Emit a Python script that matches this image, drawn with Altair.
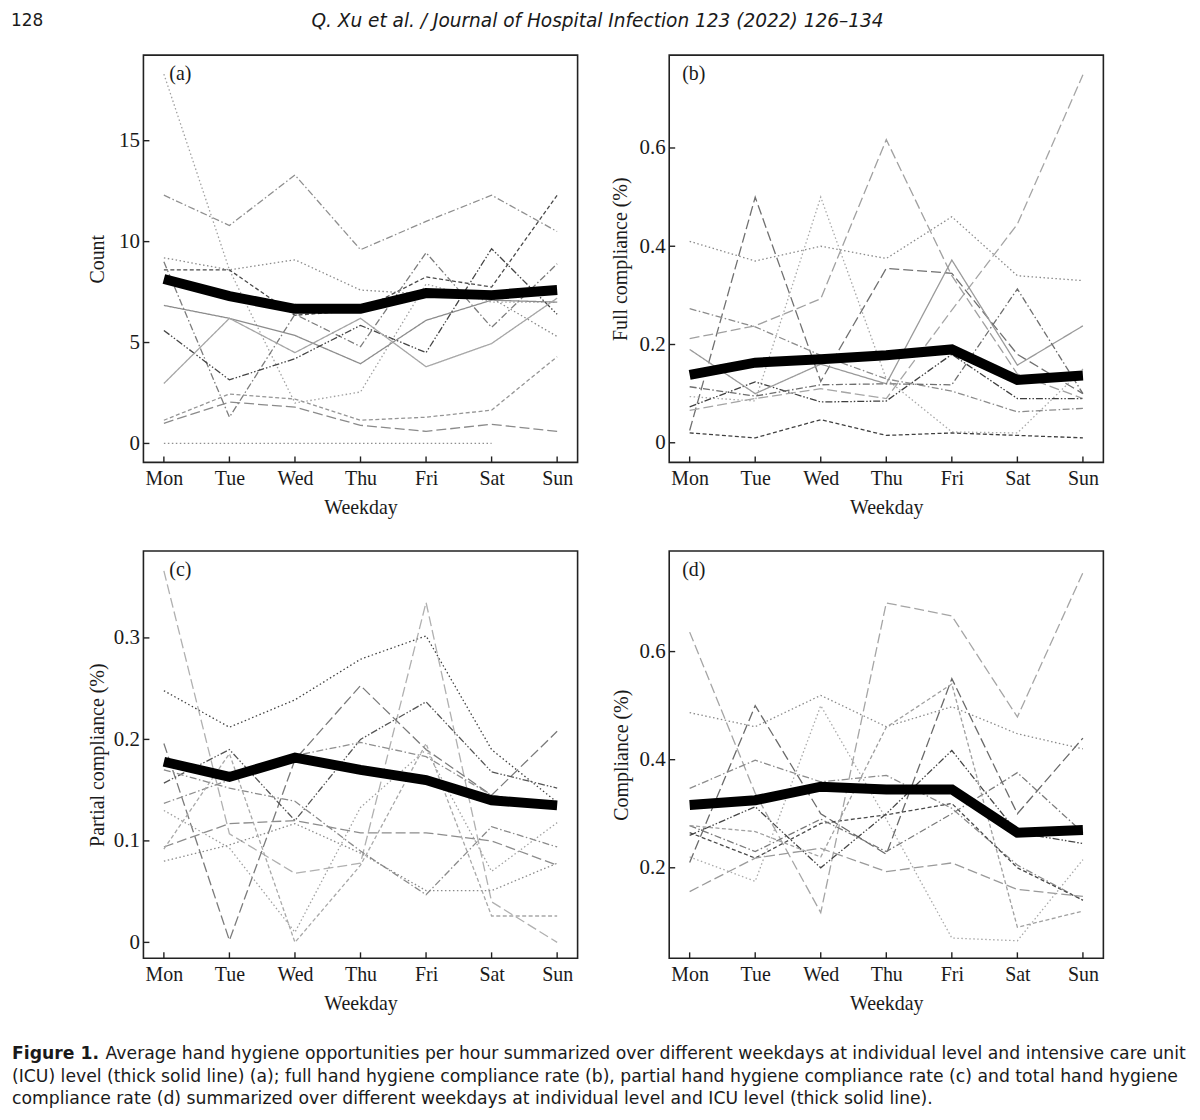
import json
import altair as alt
import pandas as pd

DAYS = ["Mon", "Tue", "Wed", "Thu", "Fri", "Sat", "Sun"]

STYLE_NAMES = ["solid", "dotted", "dashed", "longdash", "dashdot", "dashdotdot"]
STYLE_DASHES = [[1, 0], [1.5, 2.5], [4, 2.5], [10, 4], [7, 2.5, 1.5, 2.5], [7, 2, 1.5, 2, 1.5, 2]]

# ---------------- panel (a): Count ----------------
A_LINES = [
    [18.3, 8.6, 2.0, 2.55, 7.9, 7.0, 7.0],
    [12.3, 10.8, 13.3, 9.6, 11.0, 12.3, 10.5],
    [9.2, 8.6, 9.1, 7.6, 7.4, 7.2, 5.3],
    [8.6, 8.6, 6.35, 6.6, 8.25, 7.75, 12.3],
    [9.0, 1.3, 6.4, 4.8, 9.45, 5.75, 8.9],
    [6.84, 6.2, 5.35, 3.95, 6.1, 7.1, 7.0],
    [5.6, 3.15, 4.2, 5.85, 4.5, 9.65, 6.4],
    [2.97, 6.2, 4.5, 6.2, 3.8, 4.95, 7.2],
    [1.15, 2.45, 2.2, 1.15, 1.3, 1.65, 4.3],
    [1.0, 2.05, 1.8, 0.9, 0.6, 0.95, 0.6],
    [0, 0, 0, 0, 0, 0, None],
]
A_STYLES = ["dotted", "dashdot", "dotted", "dashed", "dashdot", "solid",
            "dashdotdot", "solid", "dashed", "longdash", "dotted"]
A_GREYS = ["#a0a0a0", "#8f8f8f", "#8a8a8a", "#4a4a4a", "#7c7c7c", "#8c8c8c",
           "#454545", "#a5a5a5", "#959595", "#8a8a8a", "#8f8f8f"]
A_MEAN = [8.15, 7.3, 6.67, 6.67, 7.45, 7.35, 7.6]
A_TICKS = [0, 5, 10, 15]

# ---------------- panel (b): Full compliance ----------------
B_LINES = [
    [0.41, 0.37, 0.40, 0.375, 0.46, 0.34, 0.33],
    [0.025, 0.50, 0.125, 0.355, 0.345, 0.18, 0.10],
    [0.094, 0.085, 0.50, 0.13, 0.022, 0.02, 0.15],
    [0.212, 0.238, 0.293, 0.617, 0.34, 0.14, 0.09],
    [0.073, 0.124, 0.083, 0.085, 0.18, 0.09, 0.09],
    [0.066, 0.09, 0.11, 0.09, 0.27, 0.445, 0.749],
    [0.19, 0.10, 0.16, 0.12, 0.372, 0.158, 0.238],
    [0.273, 0.236, 0.178, 0.13, 0.105, 0.063, 0.07],
    [0.114, 0.095, 0.118, 0.12, 0.118, 0.313, 0.10],
    [0.02, 0.01, 0.047, 0.015, 0.02, 0.015, 0.01],
]
B_STYLES = ["dotted", "longdash", "dotted", "longdash", "dashdotdot",
            "longdash", "solid", "dashdot", "dashdot", "dashed"]
B_GREYS = ["#8a8a8a", "#707070", "#a8a8a8", "#a0a0a0", "#3f3f3f",
           "#a5a5a5", "#9a9a9a", "#8c8c8c", "#6e6e6e", "#404040"]
B_MEAN = [0.138, 0.163, 0.17, 0.178, 0.19, 0.128, 0.137]
B_TICKS = [0, 0.2, 0.4, 0.6]

# ---------------- panel (c): Partial compliance ----------------
C_LINES = [
    [0.248, 0.212, 0.239, 0.279, 0.302, 0.19, 0.138],
    [0.366, 0.107, 0.068, 0.078, 0.335, 0.04, 0.0],
    [0.196, 0.002, 0.18, 0.253, 0.19, 0.145, 0.208],
    [0.157, 0.19, 0.12, 0.2, 0.237, 0.168, 0.152],
    [0.137, 0.16, 0.184, 0.197, 0.183, 0.145, 0.135],
    [0.17, 0.152, 0.139, 0.09, 0.047, 0.114, 0.094],
    [0.094, 0.117, 0.12, 0.108, 0.108, 0.1, 0.076],
    [0.08, 0.096, 0.117, 0.088, 0.051, 0.051, 0.078],
    [0.092, 0.186, 0.0, 0.076, 0.196, 0.026, 0.026],
    [0.13, 0.093, 0.01, 0.133, 0.19, 0.07, 0.118],
]
C_STYLES = ["dotted", "longdash", "longdash", "dashdotdot", "dashdot",
            "dashdot", "longdash", "dotted", "dashed", "dotted"]
C_GREYS = ["#404040", "#b0b0b0", "#7a7a7a", "#555555", "#8f8f8f",
           "#8a8a8a", "#8c8c8c", "#8a8a8a", "#a8a8a8", "#a0a0a0"]
C_MEAN = [0.178, 0.163, 0.182, 0.17, 0.16, 0.14, 0.135]
C_TICKS = [0, 0.1, 0.2, 0.3]

# ---------------- panel (d): Compliance ----------------
D_LINES = [
    [0.636, 0.338, 0.117, 0.69, 0.666, 0.479, 0.746],
    [0.487, 0.461, 0.519, 0.461, 0.498, 0.448, 0.42],
    [0.21, 0.5, 0.3, 0.225, 0.55, 0.3, 0.44],
    [0.347, 0.399, 0.359, 0.371, 0.31, 0.205, 0.14],
    [0.26, 0.313, 0.2, 0.3, 0.417, 0.265, 0.245],
    [0.265, 0.218, 0.282, 0.298, 0.319, 0.2, 0.14],
    [0.278, 0.23, 0.29, 0.23, 0.30, 0.376, 0.265],
    [0.156, 0.218, 0.236, 0.193, 0.209, 0.16, 0.147],
    [0.22, 0.175, 0.5, 0.29, 0.07, 0.065, 0.215],
    [0.278, 0.267, 0.22, 0.46, 0.54, 0.09, 0.12],
]
D_STYLES = ["longdash", "dotted", "longdash", "dashdot", "dashdotdot",
            "dashed", "dashdot", "longdash", "dotted", "dashed"]
D_GREYS = ["#a5a5a5", "#8a8a8a", "#6a6a6a", "#8c8c8c", "#454545",
           "#4a4a4a", "#7a7a7a", "#9a9a9a", "#a8a8a8", "#a0a0a0"]
D_MEAN = [0.316, 0.325, 0.35, 0.345, 0.345, 0.265, 0.27]
D_TICKS = [0.2, 0.4, 0.6]

# ---------------- texts ----------------
PANEL_LABELS = ["(a)", "(b)", "(c)", "(d)"]
Y_TITLES = ["Count", "Full compliance (%)", "Partial compliance (%)", "Compliance (%)"]
X_TITLE = "Weekday"
PAGE_NUMBER = "128"
RUNNING_HEAD = "Q. Xu et al. / Journal of Hospital Infection 123 (2022) 126\u2013134"
CAPTION_BOLD = "Figure 1."
CAPTION_LINES = [
    "Average hand hygiene opportunities per hour summarized over different weekdays at individual level and intensive care unit",
    "(ICU) level (thick solid line) (a); full hand hygiene compliance rate (b), partial hand hygiene compliance rate (c) and total hand hygiene",
    "compliance rate (d) summarized over different weekdays at individual level and ICU level (thick solid line).",
]

# ---------------- layout / style constants ----------------
W, H = 436, 409
XPAD = 0.312
SERIF = "Liberation Serif"
SANS = "DejaVu Sans"
CAP_SIZE = 17.3
DOMAINS = [[-0.94, 19.24], [-0.040, 0.789], [-0.0157, 0.3856], [0.0325, 0.786]]
LABEL_X = [26, 13, 26, 13]
TITLE_X = [-46, -49, -46, -48]
INK = "#1a1a1a"


def lines_df(lines, styles, greys):
    rows = []
    for i, (vals, st, gr) in enumerate(zip(lines, styles, greys)):
        for j, v in enumerate(vals):
            if v is None:
                continue
            rows.append({"id": i, "idx": j, "value": v, "style": st, "grey": gr})
    return pd.DataFrame(rows)


def make_panel(k, lines, styles, greys, mean, ticks):
    xscale = alt.Scale(domain=[-XPAD, 6 + XPAD], nice=False, zero=False)
    yscale = alt.Scale(domain=DOMAINS[k], nice=False, zero=False)
    xaxis = alt.Axis(
        values=list(range(7)),
        labelExpr=json.dumps(DAYS) + "[datum.value]",
        tickSize=0, domain=False, grid=False,
        labelFont=SERIF, labelFontSize=20, labelPadding=6, labelColor=INK,
        title=X_TITLE, titleFont=SERIF, titleFontSize=20, titleFontWeight="normal",
        titleColor=INK, titleX=W / 2, titleY=35, titleAlign="center", titleBaseline="top",
    )
    yaxis = alt.Axis(
        values=ticks, format="~g",
        tickSize=0, domain=False, grid=False,
        labelFont=SERIF, labelFontSize=21, labelPadding=4, labelColor=INK,
        title=Y_TITLES[k], titleFont=SERIF, titleFontSize=20, titleFontWeight="normal",
        titleColor=INK, titleX=TITLE_X[k], titleY=H / 2, titleAngle=270,
        titleAlign="center", titleBaseline="middle",
    )
    X = lambda f: alt.X(f, scale=xscale, axis=xaxis)
    Y = lambda f: alt.Y(f, scale=yscale, axis=yaxis)

    indiv = alt.Chart(lines_df(lines, styles, greys)).mark_line(strokeWidth=1.3).encode(
        x=X("idx:Q"),
        y=Y("value:Q"),
        color=alt.Color("grey:N", scale=None),
        strokeDash=alt.StrokeDash("style:N", scale=alt.Scale(domain=STYLE_NAMES, range=STYLE_DASHES), legend=None),
        detail="id:N",
    )
    mean_line = alt.Chart(pd.DataFrame({"idx": list(range(7)), "value": mean})).mark_line(
        color="#000000", strokeWidth=10, strokeCap="butt", strokeJoin="miter"
    ).encode(x=X("idx:Q"), y=Y("value:Q"))
    xticks = alt.Chart(pd.DataFrame({"idx": list(range(7))})).mark_rule(color="#222222", strokeWidth=1.4).encode(
        x=X("idx:Q"),
        y=alt.value(H), y2=alt.value(H - 6),
    )
    yticks = alt.Chart(pd.DataFrame({"value": ticks})).mark_rule(color="#222222", strokeWidth=1.4).encode(
        y=Y("value:Q"),
        x=alt.value(0), x2=alt.value(6),
    )
    label = alt.Chart(pd.DataFrame({"t": [PANEL_LABELS[k]]})).mark_text(
        font=SERIF, fontSize=20, align="left", baseline="middle", color=INK
    ).encode(text="t:N", x=alt.value(LABEL_X[k]), y=alt.value(19))
    layers = [indiv, mean_line, xticks, yticks, label]

    if k == 0:
        layers.append(
            alt.Chart(pd.DataFrame({"t": [PAGE_NUMBER]})).mark_text(
                font=SANS, fontSize=17, align="left", baseline="middle", color=INK
            ).encode(text="t:N", x=alt.value(-133), y=alt.value(-34.3))
        )
        layers.append(
            alt.Chart(pd.DataFrame({"t": [RUNNING_HEAD]})).mark_text(
                font=SANS, fontSize=18.6, fontStyle="italic", align="center", baseline="middle", color=INK
            ).encode(text="t:N", x=alt.value(456), y=alt.value(-34.3))
        )
    if k == 2:
        layers.append(
            alt.Chart(pd.DataFrame({"t": [CAPTION_BOLD]})).mark_text(
                font=SANS, fontSize=CAP_SIZE, fontWeight="bold", align="left", baseline="middle", color=INK
            ).encode(text="t:N", x=alt.value(-132), y=alt.value(505))
        )
        xs = [-38, -132, -132]
        ys = [505, 528, 550]
        for line, xx, yy in zip(CAPTION_LINES, xs, ys):
            layers.append(
                alt.Chart(pd.DataFrame({"t": [line]})).mark_text(
                    font=SANS, fontSize=CAP_SIZE, align="left", baseline="middle", color=INK
                ).encode(text="t:N", x=alt.value(xx), y=alt.value(yy))
            )
    return alt.layer(*layers).properties(width=W, height=H)


pa = make_panel(0, A_LINES, A_STYLES, A_GREYS, A_MEAN, A_TICKS)
pb = make_panel(1, B_LINES, B_STYLES, B_GREYS, B_MEAN, B_TICKS)
pc = make_panel(2, C_LINES, C_STYLES, C_GREYS, C_MEAN, C_TICKS)
pd_ = make_panel(3, D_LINES, D_STYLES, D_GREYS, D_MEAN, D_TICKS)

chart = alt.concat(
    pa, pb, pc, pd_, columns=2, spacing={"row": 89, "column": 92}, bounds="flush"
).properties(
    padding={"left": 2, "top": 0, "right": 6, "bottom": 4},
    background="white",
).configure_view(stroke="#222222", strokeWidth=1.6)

chart.save("out.html", embed_options={"renderer": "svg", "actions": False})
